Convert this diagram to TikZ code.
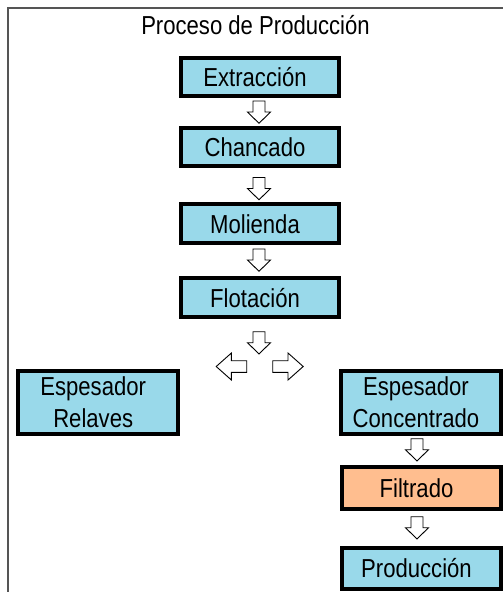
\documentclass[tikz,border=0pt]{standalone}
\usepackage{fontspec}
\setmainfont[FakeStretch=0.85]{Liberation Sans}
\definecolor{boxblue}{RGB}{153,217,234}
\definecolor{boxorange}{RGB}{255,190,143}
\definecolor{framegray}{RGB}{85,85,85}
\tikzset{
  box/.style={draw=black, line width=4pt, fill=boxblue, inner sep=0pt},
  boxtext/.style={font=\fontsize{26}{31.5}\selectfont, align=center, xshift=-5pt, inner sep=0pt},
  oneline/.style={text height=18.6pt, text depth=0pt},
  arrowshape/.style={draw=black, line width=0.9pt, fill=white, line join=miter},
  downarr/.pic={\path[arrowshape] (-6,0) -- (6,0) -- (6,11) -- (11.5,11) -- (0,22.3) -- (-11.5,11) -- (-6,11) -- cycle;},
  sidearr/.pic={\path[arrowshape] (0,-5.8) -- (15.3,-5.8) -- (15.3,-13.5) -- (30.5,0) -- (15.3,13.5) -- (15.3,5.8) -- (0,5.8) -- cycle;}
}
\begin{document}
\begin{tikzpicture}[x=1pt, y=-1pt]
\useasboundingbox (0,0) rectangle (503,592);
% frame
\draw[framegray, line width=2pt] (7.7,600) -- (7.7,7.8) -- (510,7.8);
% title
\node[font=\fontsize{26}{30}\selectfont, anchor=base, inner sep=0pt] (title) at (255.5,34.6) {Proceso de Producción};
% main column
\node[box, minimum width=158pt, minimum height=38.6pt, label={[boxtext,oneline]center:Extracción}] (ext) at (260,77) {};
\node[box, minimum width=158pt, minimum height=38.6pt, label={[boxtext,oneline]center:Chancado}] (cha) at (260,147) {};
\node[box, minimum width=158pt, minimum height=39pt, label={[boxtext,oneline]center:Molienda}] (mol) at (260,223.8) {};
\node[box, minimum width=158pt, minimum height=38.7pt, label={[boxtext,oneline]center:Flotación}] (flo) at (260,297.7) {};
% branches
\node[box, minimum width=160.3pt, minimum height=63.3pt, label={[boxtext]center:Espesador\\Relaves}] (rel) at (98.2,402.3) {};
\node[box, minimum width=160pt, minimum height=63.3pt, label={[boxtext]center:Espesador\\Concentrado}] (con) at (421,402.3) {};
\node[box, fill=boxorange, minimum width=159pt, minimum height=42pt, label={[boxtext,oneline]center:Filtrado}] (fil) at (421.5,488) {};
\node[box, minimum width=159pt, minimum height=41pt, label={[boxtext,oneline]center:Producción}] (pro) at (421.5,568.5) {};
% block arrows
\pic at (259,101) {downarr};
\pic at (259,177.5) {downarr};
\pic at (259,249) {downarr};
\pic at (259,331.7) {downarr};
\pic at (417,438.7) {downarr};
\pic at (417,516.7) {downarr};
\pic[xscale=-1] at (246.7,366.5) {sidearr};
\pic at (272.7,366.5) {sidearr};
\end{tikzpicture}
\end{document}
